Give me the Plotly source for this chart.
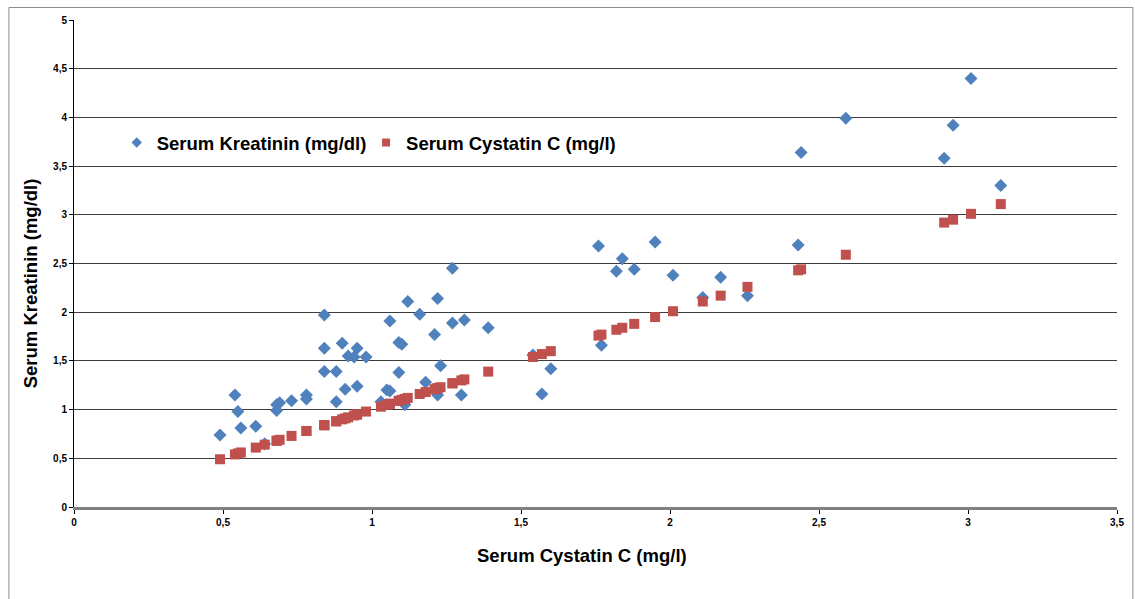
import plotly.graph_objects as go

# Paired patient values: Serum Cystatin C (mg/l) and Serum Kreatinin (mg/dl)
cystatin_c = [0.49, 0.54, 0.55, 0.56, 0.61, 0.64, 0.68, 0.68, 0.69, 0.73,
              0.78, 0.78, 0.84, 0.84, 0.84, 0.88, 0.88, 0.90, 0.91, 0.92,
              0.94, 0.95, 0.95, 0.98, 1.03, 1.05, 1.06, 1.06, 1.09, 1.10,
              1.09, 1.11, 1.12, 1.16, 1.18, 1.21, 1.22, 1.22, 1.23, 1.27,
              1.27, 1.30, 1.31, 1.39, 1.54, 1.57, 1.60, 1.76, 1.77, 1.82,
              1.84, 1.88, 1.95, 2.01, 2.11, 2.17, 2.26, 2.43, 2.44, 2.59,
              2.92, 2.95, 3.01, 3.11]
kreatinin = [0.74, 1.15, 0.98, 0.81, 0.83, 0.65, 0.99, 1.05, 1.07, 1.09,
             1.15, 1.11, 1.97, 1.63, 1.39, 1.39, 1.08, 1.68, 1.21, 1.55,
             1.54, 1.63, 1.24, 1.54, 1.08, 1.20, 1.19, 1.91, 1.69, 1.67,
             1.38, 1.05, 2.11, 1.98, 1.28, 1.77, 2.14, 1.15, 1.45, 2.45,
             1.89, 1.15, 1.92, 1.84, 1.56, 1.16, 1.42, 2.68, 1.66, 2.42,
             2.55, 2.44, 2.72, 2.38, 2.15, 2.36, 2.17, 2.69, 3.64, 3.99,
             3.58, 3.92, 4.40, 3.30]

name_kreatinin = "Serum Kreatinin (mg/dl)"
name_cystatin = "Serum Cystatin C (mg/l)"
x_title = "Serum Cystatin C (mg/l)"
y_title = "Serum Kreatinin (mg/dl)"

BLUE = "#4F81BD"
RED = "#C0504D"
FONT = "Liberation Sans, Arial, sans-serif"

fig = go.Figure()
fig.add_trace(go.Scatter(
    x=cystatin_c, y=kreatinin, mode="markers", name=name_kreatinin,
    marker=dict(symbol="diamond", size=10, color=BLUE),
    legend="legend", showlegend=False, legendgroup="k"))
fig.add_trace(go.Scatter(
    x=cystatin_c, y=cystatin_c, mode="markers", name=name_cystatin,
    marker=dict(symbol="square", size=10, color=RED),
    legend="legend2", showlegend=False, legendgroup="c"))
# legend entries (smaller symbols, as in the original legend)
fig.add_trace(go.Scatter(
    x=[None], y=[None], mode="markers", name=name_kreatinin,
    marker=dict(symbol="diamond", size=8, color=BLUE),
    legend="legend", showlegend=True, legendgroup="k"))
fig.add_trace(go.Scatter(
    x=[None], y=[None], mode="markers", name=name_cystatin,
    marker=dict(symbol="square", size=8, color=RED),
    legend="legend2", showlegend=True, legendgroup="c"))

L, R, T, B = 74, 11, 20, 92
W, H = 1135, 599
pw, ph = W - L - R, H - T - B

def px_x(p):
    return (p - L) / pw

def px_y(p):
    return (H - B - p) / ph

legend_common = dict(
    orientation="h", bgcolor="rgba(0,0,0,0)", borderwidth=0,
    font=dict(family=FONT, size=18.5, color="#000", weight="bold"),
    xanchor="left", yanchor="middle", itemsizing="trace",
    itemclick=False, itemdoubleclick=False,
)

fig.update_layout(
    width=W, height=H,
    margin=dict(l=L, r=R, t=T, b=B),
    paper_bgcolor="white", plot_bgcolor="white",
    separators=",.",
    showlegend=True,
    font=dict(family=FONT, color="#000"),
    legend=dict(x=px_x(117), y=px_y(143), **legend_common),
    legend2=dict(x=px_x(368), y=px_y(143), **legend_common),
    xaxis=dict(
        range=[0, 3.5], dtick=0.5, tick0=0, showgrid=False, zeroline=False,
        showline=True, linecolor="#808080", linewidth=3,
        ticks="outside", ticklen=4, tickcolor="#000", tickwidth=1,
        tickfont=dict(family=FONT, size=10, color="#000", weight="bold"),
    ),
    yaxis=dict(
        range=[0, 5], dtick=0.5, tick0=0, showgrid=True, gridcolor="#3c3c3c",
        gridwidth=1, zeroline=False,
        showline=True, linecolor="#000", linewidth=1,
        ticks="outside", ticklen=4, tickcolor="#000", tickwidth=1,
        tickfont=dict(family=FONT, size=10, color="#000", weight="bold"),
    ),
)

title_font = dict(family=FONT, size=18.5, color="#000", weight="bold")
fig.add_annotation(text=x_title, xref="paper", yref="paper",
                   x=px_x(585), y=px_y(555), xanchor="center", yanchor="middle",
                   showarrow=False, font=title_font)
fig.add_annotation(text=y_title, xref="paper", yref="paper",
                   x=px_x(30), y=px_y(283), xanchor="center", yanchor="middle",
                   textangle=-90, showarrow=False, font=title_font)

fig.add_shape(type="rect", xref="paper", yref="paper",
              x0=px_x(8.5), x1=px_x(1140), y0=px_y(610), y1=px_y(7.5),
              line=dict(color="#8c8c8c", width=1), fillcolor="rgba(0,0,0,0)",
              layer="below")

fig.write_html("out.html")
